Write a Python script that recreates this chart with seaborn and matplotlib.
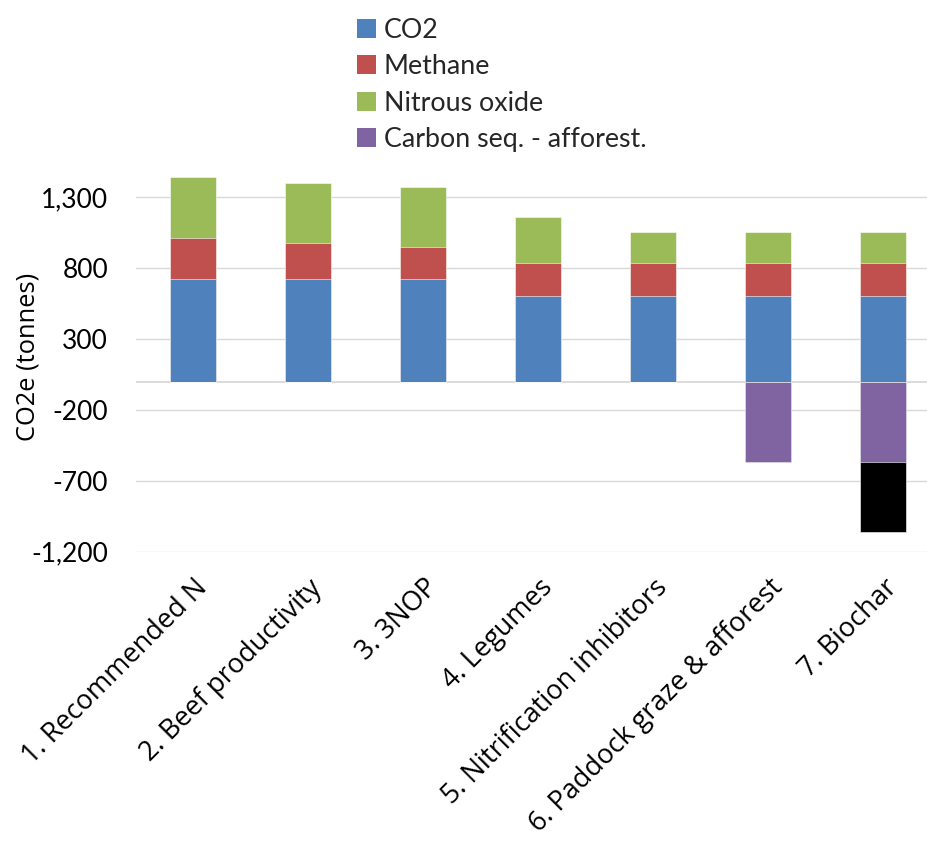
import numpy as np
import pandas as pd
import matplotlib
matplotlib.use("Agg")
import matplotlib.pyplot as plt
import seaborn as sns
from matplotlib.patches import Patch

sns.set_theme(style="white")
plt.rcParams['font.family'] = ['Lato', 'DejaVu Sans']

categories = ["1. Recommended N", "2. Beef productivity", "3. 3NOP", "4. Legumes",
              "5. Nitrification inhibitors", "6. Paddock graze & afforest", "7. Biochar"]
co2 = [725, 725, 725, 607, 607, 607, 607]
methane = [285, 252, 226, 228, 228, 228, 228]
nitrous = [435, 421, 423, 323, 222, 222, 222]
afforest = [0, 0, 0, 0, 0, -565, -565]
biochar = [0, 0, 0, 0, 0, 0, -497]
series_labels = ["CO2", "Methane", "Nitrous oxide", "Carbon seq. - afforest."]
yticks = [-1200, -700, -200, 300, 800, 1300]
ytick_labels = ["-1,200", "-700", "-200", "300", "800", "1,300"]

colors = {"CO2": "#4F81BD", "Methane": "#C0504D", "Nitrous oxide": "#9BBB59",
          "Carbon seq. - afforest.": "#8064A2", "biochar": "#000000"}

df = pd.DataFrame({"cat": categories, "co2": co2, "methane": methane,
                   "nitrous": nitrous, "afforest": afforest, "biochar": biochar})
df["c1"] = df["co2"]
df["c2"] = df["c1"] + df["methane"]
df["c3"] = df["c2"] + df["nitrous"]
df["n1"] = df["afforest"]
df["n2"] = df["n1"] + df["biochar"]

W, H = 928, 843
fig = plt.figure(figsize=(W / 100, H / 100), dpi=100)
ax = fig.add_axes([136 / W, 1 - 551.7 / H, 805 / W, (551.7 - 168.9) / H])

for ycol in yticks:
    ax.axhline(ycol, color="#D9D9D9", lw=1.0, zorder=0)
ax.axhline(0, color="#D9D9D9", lw=1.3, zorder=0)

layers = [("c3", colors["Nitrous oxide"]), ("c2", colors["Methane"]), ("c1", colors["CO2"]),
          ("n2", colors["biochar"]), ("n1", colors["Carbon seq. - afforest."])]
for col, c in layers:
    sns.barplot(data=df, x="cat", y=col, color=c, width=0.4, ax=ax, saturation=1,
                edgecolor="white", linewidth=0.4, zorder=2)

ax.set_xlim(-0.5, 6.5)
ax.set_ylim(-1200, 1500)
ax.set_yticks(yticks)
ax.set_yticklabels(ytick_labels, fontsize=19, color="#000000")
ax.tick_params(axis="y", length=0, pad=20)
ax.tick_params(axis="x", length=0, pad=16)
ax.set_xticks(range(len(categories)))
ax.set_xticklabels(categories, rotation=45, ha="right", va="top",
                   rotation_mode="anchor", fontsize=19.5, color="#000000",
                   family=["Open Sans", "DejaVu Sans"])
ax.set_xlabel("")
ax.set_ylabel("")
for s in ax.spines.values():
    s.set_visible(False)
ax.grid(False)

fig.text(28 / W, 1 - 357 / H, "CO2e (tonnes)", rotation=90, ha="center", va="center",
         fontsize=18.4, color="#000000", family=["Open Sans", "DejaVu Sans"])

handles = [Patch(facecolor=colors[l], edgecolor="none") for l in series_labels]
fig.legend(handles, series_labels, loc="upper left", bbox_to_anchor=(357 / W, 1 - 18 / H),
           frameon=False, fontsize=19.3, handlelength=0.7, handleheight=0.7,
           handletextpad=0.3, labelspacing=0.42, borderaxespad=0, borderpad=0)

fig.savefig("out.png", dpi=100)
